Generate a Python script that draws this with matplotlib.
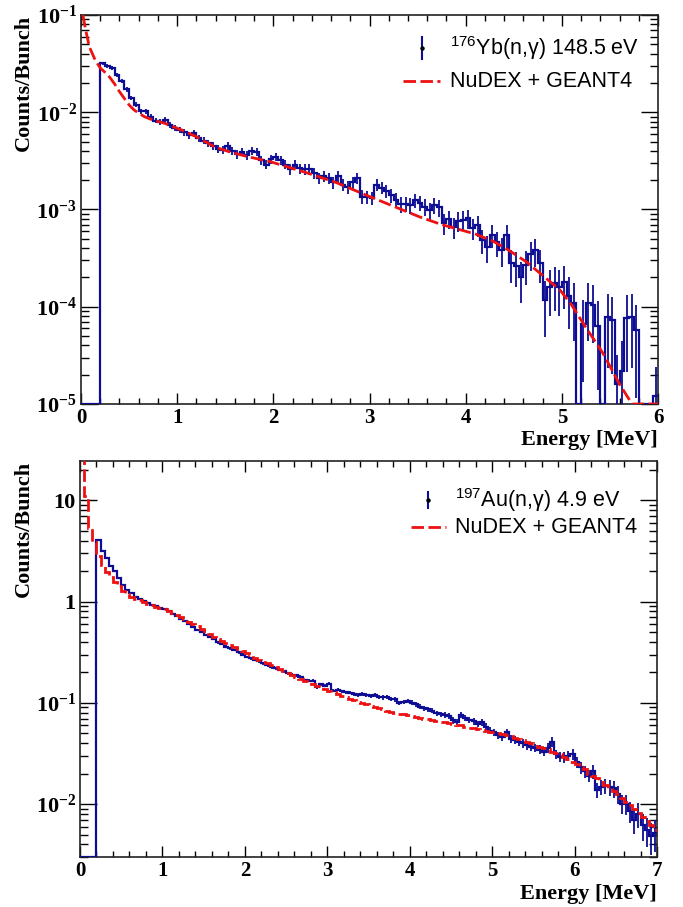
import numpy as np
import matplotlib
matplotlib.use('Agg')
import matplotlib.pyplot as plt
from matplotlib.ticker import LogLocator, FixedLocator, MultipleLocator, NullFormatter

plt.rcParams['mathtext.fontset'] = 'custom'
plt.rcParams['mathtext.rm'] = 'Liberation Sans'
plt.rcParams['mathtext.it'] = 'Liberation Sans:italic'
plt.rcParams['mathtext.bf'] = 'Liberation Serif:bold'

# ---------------- data: top panel (176Yb, 148.5 eV), 0.05 MeV bins from 0 to 6 MeV
yb_bin_width = 0.05
yb_counts = [
    0, 0, 0, 0, 0.0318, 0.0300, 0.0285, 0.0240, 0.0210, 0.0172,
    0.0140, 0.0120, 0.0102, 0.0103, 0.0090, 0.0082, 0.0079, 0.0083, 0.0074, 0.0069,
    0.0066, 0.0062, 0.0058, 0.0061, 0.0054, 0.0051, 0.0048, 0.0045, 0.0042, 0.0041,
    0.0045, 0.0040, 0.0037, 0.0039, 0.0036, 0.0040, 0.0039, 0.0032, 0.0029, 0.0033,
    0.0035, 0.0032, 0.0029, 0.0026, 0.0029, 0.00265, 0.0026, 0.0026, 0.00236, 0.0021,
    0.0022, 0.0021, 0.0019, 0.0022, 0.0018, 0.0017, 0.0019, 0.0021, 0.00136, 0.00135,
    0.00132, 0.0018, 0.00168, 0.00155, 0.0014, 0.00125, 0.00113, 0.00115, 0.0011, 0.00124,
    0.00117, 0.00107, 0.00098, 0.0011, 0.00105, 0.00072, 0.0008, 0.00066, 0.00077, 0.00078,
    0.00081, 0.00064, 0.00069, 0.00048, 0.00041, 0.00055, 0.00046, 0.00038, 0.00055, 0.00028,
    0.00026, 0.00020, 0.00027, 0.00035, 0.00038, 0.00028, 0.000117, 0.00016, 0.000174, 0.00016,
    0.00018, 0.00013, 0.00011, 0, 6.7e-5, 1.1e-4, 1.05e-4, 6.4e-5, 0, 7.9e-5,
    7.3e-5, 1.6e-5, 2.2e-5, 7.6e-5, 7.9e-5, 5.8e-5, 0, 0, 0, 1.2e-5,
]
yb_rel_err = [
    0, 0, 0, 0, 0.04, 0.04, 0.04, 0.045, 0.05, 0.05,
    0.055, 0.06, 0.06, 0.06, 0.065, 0.065, 0.07, 0.07, 0.07, 0.075,
    0.075, 0.08, 0.08, 0.08, 0.085, 0.085, 0.09, 0.09, 0.09, 0.09,
    0.09, 0.095, 0.1, 0.1, 0.1, 0.1, 0.1, 0.11, 0.11, 0.11,
    0.1, 0.11, 0.11, 0.12, 0.11, 0.12, 0.12, 0.12, 0.12, 0.13,
    0.13, 0.13, 0.14, 0.13, 0.14, 0.15, 0.14, 0.13, 0.16, 0.16,
    0.16, 0.14, 0.15, 0.15, 0.16, 0.17, 0.18, 0.18, 0.18, 0.17,
    0.18, 0.19, 0.2, 0.19, 0.2, 0.24, 0.22, 0.25, 0.23, 0.23,
    0.22, 0.25, 0.24, 0.28, 0.31, 0.27, 0.29, 0.33, 0.27, 0.37,
    0.39, 0.45, 0.38, 0.33, 0.32, 0.37, 0.58, 0.5, 0.48, 0.5,
    0.47, 0.55, 0.6, 0, 0.75, 0.6, 0.6, 0.78, 0, 0.7,
    0.72, 1.0, 1.0, 0.72, 0.7, 0.8, 0, 0, 0, 1.0,
]
yb_sim_energy = [0.02, 0.045, 0.087, 0.147, 0.2, 0.25, 0.3, 0.35, 0.4, 0.45, 0.5, 0.55,
                 0.6, 0.66, 0.75, 0.87, 1.04, 1.2, 1.39, 1.55, 1.73, 1.97, 2.31, 2.65,
                 3.0, 3.25, 3.52, 3.75, 3.94, 4.1, 4.29, 4.45, 4.63, 4.8, 4.98, 5.1,
                 5.22, 5.43, 5.6, 5.73, 5.78, 6.0]
yb_sim_counts = [0.1, 0.073, 0.047, 0.0345, 0.0285, 0.0257, 0.0228, 0.0195, 0.0163, 0.0139,
                 0.0119, 0.0106, 0.0098, 0.0090, 0.0083, 0.0077, 0.0066, 0.0056, 0.0044,
                 0.0039, 0.0035, 0.0031, 0.00245, 0.0019, 0.00136, 0.00108, 0.00084,
                 0.0007, 0.00062, 0.00056, 0.00047, 0.00038, 0.00029, 0.00021, 0.000149,
                 0.000105, 6.8e-5, 3.3e-5, 1.6e-5, 1.0e-5, 0, 0]

# ---------------- data: bottom panel (197Au, 4.9 eV), 0.05 MeV bins from 0 to 7 MeV
au_bin_width = 0.05
au_counts = [
    0, 0, 0, 0, 4.1, 3.14, 2.70, 2.23, 1.99, 1.71,
    1.47, 1.31, 1.22, 1.10, 1.07, 1.02, 0.97, 0.935, 0.90, 0.87,
    0.84, 0.80, 0.76, 0.72, 0.68, 0.65, 0.595, 0.565, 0.53, 0.50,
    0.47, 0.45, 0.43, 0.395, 0.38, 0.36, 0.345, 0.33, 0.315, 0.30,
    0.285, 0.275, 0.265, 0.258, 0.245, 0.235, 0.225, 0.22, 0.212, 0.205,
    0.197, 0.19, 0.188, 0.182, 0.168, 0.166, 0.165, 0.142, 0.152, 0.148,
    0.155, 0.132, 0.135, 0.13, 0.127, 0.126, 0.122, 0.12, 0.123, 0.119,
    0.116, 0.119, 0.114, 0.113, 0.115, 0.11, 0.108, 0.10, 0.102, 0.104,
    0.10, 0.097, 0.092, 0.088, 0.086, 0.084, 0.079, 0.077, 0.076, 0.074,
    0.067, 0.065, 0.076, 0.071, 0.068, 0.066, 0.062, 0.064, 0.058, 0.053,
    0.051, 0.048, 0.046, 0.051, 0.044, 0.043, 0.041, 0.040, 0.038, 0.037,
    0.036, 0.0345, 0.033, 0.036, 0.041, 0.031, 0.0295, 0.029, 0.030, 0.031,
    0.026, 0.023, 0.021, 0.019, 0.021, 0.0138, 0.0148, 0.015, 0.0148, 0.0143,
    0.0125, 0.0101, 0.0101, 0.0085, 0.0069, 0.008, 0.0062, 0.0055, 0.0048, 0.0052,
]
au_rel_err = [
    0, 0, 0, 0, 0.015, 0.015, 0.015, 0.015, 0.015, 0.015,
    0.015, 0.015, 0.015, 0.015, 0.015, 0.015, 0.015, 0.015, 0.015, 0.015,
    0.02, 0.02, 0.02, 0.02, 0.02, 0.02, 0.02, 0.02, 0.02, 0.02,
    0.02, 0.02, 0.02, 0.025, 0.025, 0.025, 0.025, 0.025, 0.025, 0.025,
    0.03, 0.03, 0.03, 0.03, 0.03, 0.03, 0.03, 0.03, 0.03, 0.03,
    0.035, 0.035, 0.035, 0.035, 0.035, 0.035, 0.035, 0.04, 0.04, 0.04,
    0.04, 0.04, 0.04, 0.04, 0.04, 0.04, 0.045, 0.045, 0.045, 0.045,
    0.045, 0.045, 0.05, 0.05, 0.05, 0.05, 0.05, 0.05, 0.05, 0.05,
    0.055, 0.055, 0.055, 0.06, 0.06, 0.06, 0.06, 0.065, 0.065, 0.065,
    0.07, 0.07, 0.07, 0.07, 0.075, 0.075, 0.075, 0.075, 0.08, 0.08,
    0.08, 0.085, 0.085, 0.085, 0.09, 0.09, 0.09, 0.095, 0.095, 0.1,
    0.1, 0.1, 0.105, 0.105, 0.11, 0.11, 0.115, 0.115, 0.12, 0.12,
    0.13, 0.13, 0.14, 0.14, 0.15, 0.16, 0.17, 0.17, 0.18, 0.19,
    0.2, 0.21, 0.22, 0.24, 0.27, 0.28, 0.3, 0.32, 0.35, 0.35,
]
au_sim_counts = [
    40, 11.0, 5.3, 3.9, 2.85, 2.3, 1.95, 1.75, 1.55, 1.42,
    1.28, 1.18, 1.12, 1.07, 1.03, 0.99, 0.95, 0.92, 0.89, 0.86,
    0.84, 0.81, 0.78, 0.74, 0.71, 0.67, 0.63, 0.60, 0.57, 0.54,
    0.51, 0.48, 0.45, 0.43, 0.41, 0.39, 0.37, 0.355, 0.34, 0.325,
    0.31, 0.295, 0.28, 0.268, 0.256, 0.245, 0.234, 0.224, 0.215, 0.206,
    0.197, 0.189, 0.181, 0.173, 0.166, 0.16, 0.154, 0.148, 0.142, 0.137,
    0.132, 0.127, 0.122, 0.118, 0.114, 0.11, 0.106, 0.103, 0.1, 0.097,
    0.094, 0.091, 0.089, 0.086, 0.084, 0.082, 0.08, 0.078, 0.077, 0.075,
    0.074, 0.072, 0.071, 0.07, 0.069, 0.067, 0.066, 0.065, 0.064, 0.063,
    0.062, 0.061, 0.06, 0.058, 0.057, 0.056, 0.055, 0.054, 0.053, 0.052,
    0.051, 0.05, 0.049, 0.048, 0.047, 0.045, 0.044, 0.043, 0.041, 0.04,
    0.039, 0.037, 0.036, 0.035, 0.033, 0.032, 0.031, 0.029, 0.028, 0.026,
    0.025, 0.023, 0.022, 0.02, 0.019, 0.018, 0.0165, 0.0155, 0.0145, 0.0135,
    0.0125, 0.0115, 0.0106, 0.0098, 0.009, 0.0082, 0.0075, 0.0068, 0.0062, 0.0056,
]

legend_data = [r'$^{176}$Yb(n,γ) 148.5 eV', r'$^{197}$Au(n,γ) 4.9 eV']
legend_sim = 'NuDEX + GEANT4'

BLUE = '#0d0d94'
RED = '#ee1111'
SERIF = 'Liberation Serif'
SANS = 'Liberation Sans'

W, H = 683, 907
fig = plt.figure(figsize=(W / 100, H / 100), dpi=100)
ax1 = fig.add_axes([81 / W, 1 - 404 / H, 577 / W, 389 / H])
ax2 = fig.add_axes([80 / W, 1 - 857 / H, 577 / W, 396 / H])


def style(ax, xmax, ymin, ymax, yticks, ylabels):
    ax.set_yscale('log')
    ax.set_xlim(0, xmax)
    ax.set_ylim(ymin, ymax)
    ax.set_xticks(np.arange(0, xmax + 1))
    ax.set_xticklabels([str(i) for i in range(xmax + 1)], fontfamily=SERIF,
                       fontweight='bold', fontsize=15)
    ax.xaxis.set_minor_locator(MultipleLocator(0.2))
    ax.yaxis.set_major_locator(FixedLocator(yticks))
    ax.set_yticklabels(ylabels, fontfamily=SERIF, fontweight='bold', fontsize=16)
    ax.yaxis.set_minor_locator(LogLocator(base=10, subs=np.arange(2, 10), numticks=30))
    ax.yaxis.set_minor_formatter(NullFormatter())
    ax.tick_params(axis='x', which='major', direction='in', length=8, width=1.0,
                   top=True, bottom=True, pad=3, colors='black')
    ax.tick_params(axis='x', which='minor', direction='in', length=4, width=1.0,
                   top=True, bottom=True)
    ax.tick_params(axis='y', which='major', direction='in', length=12.5, width=1.0,
                   left=True, right=True, pad=3)
    ax.tick_params(axis='y', which='minor', direction='in', length=6, width=1.0,
                   left=True, right=True)
    for s in ax.spines.values():
        s.set_linewidth(1.2)
        s.set_color('#222222')


def draw(ax, counts, rel_err, width, ymin):
    counts = np.asarray(counts, float)
    rel = np.asarray(rel_err, float)
    edges = np.arange(len(counts) + 1) * width
    centers = edges[:-1] + width / 2
    shown = np.where(counts > 0, counts, ymin)
    ax.stairs(shown, edges, baseline=None, color=BLUE, lw=1.6, zorder=3)
    m = counts > 0
    lo = np.maximum(counts[m] * (1 - rel[m]), ymin)
    hi = counts[m] * (1 + rel[m])
    ax.vlines(centers[m], lo, hi, color=BLUE, lw=1.3, zorder=3)


# ---- top panel
style(ax1, 6, 1e-5, 1e-1, [1e-5, 1e-4, 1e-3, 1e-2, 1e-1],
      [r'$\mathbf{10^{-5}}$', r'$\mathbf{10^{-4}}$', r'$\mathbf{10^{-3}}$',
       r'$\mathbf{10^{-2}}$', r'$\mathbf{10^{-1}}$'])
draw(ax1, yb_counts, yb_rel_err, yb_bin_width, 1e-5)
ax1.plot(yb_sim_energy, np.maximum(np.asarray(yb_sim_counts), 1e-5), color=RED, lw=2.0,
         dashes=(4.5, 1.6), zorder=4)

# ---- bottom panel
style(ax2, 7, 0.003, 24.5, [1e-2, 1e-1, 1, 10],
      [r'$\mathbf{10^{-2}}$', r'$\mathbf{10^{-1}}$', '1', '10'])
draw(ax2, au_counts, au_rel_err, au_bin_width, 0.003)
au_edges = np.arange(len(au_sim_counts) + 1) * au_bin_width
ax2.stairs(au_sim_counts, au_edges, baseline=None, color=RED, lw=2.0,
           linestyle=(0, (4.5, 1.6)), zorder=4)


# ---- legends (drawn by hand, ROOT style)
def legend(ax, xm, ym, bar, xl0, xl1, yl, xt, label):
    ax.plot([xm, xm], [ym - bar, ym + bar], color=BLUE, lw=1.5, transform=ax.transAxes,
            clip_on=False, zorder=5)
    ax.plot([xm], [ym], 'o', color='black', ms=2.2, transform=ax.transAxes,
            clip_on=False, zorder=6)
    ax.text(xt, ym, label, transform=ax.transAxes, ha='left', va='center',
            fontfamily=SANS, fontsize=15.5)
    ax.plot([xl0, xl1], [yl, yl], color=RED, lw=2.0, dashes=(4.5, 1.6),
            transform=ax.transAxes, clip_on=False)
    ax.text(xt, yl, legend_sim, transform=ax.transAxes, ha='left', va='center',
            fontfamily=SANS, fontsize=15.5)


legend(ax1, 0.591, 0.915, 0.028, 0.558, 0.622, 0.830, 0.6395, legend_data[0])
legend(ax2, 0.603, 0.9015, 0.021, 0.574, 0.634, 0.833, 0.650, legend_data[1])

# ---- axis titles
for ytop in (15, 461):
    fig.text(24 / W, 1 - ytop / H, 'Counts/Bunch', rotation=90, ha='center', va='top',
             fontfamily=SERIF, fontweight='bold', fontsize=16)
for ytop, xr in ((430, 658), (884, 657)):
    fig.text(xr / W, 1 - ytop / H, 'Energy [MeV]', ha='right', va='top',
             fontfamily=SERIF, fontweight='bold', fontsize=16)

fig.savefig('out.png', dpi=100)
